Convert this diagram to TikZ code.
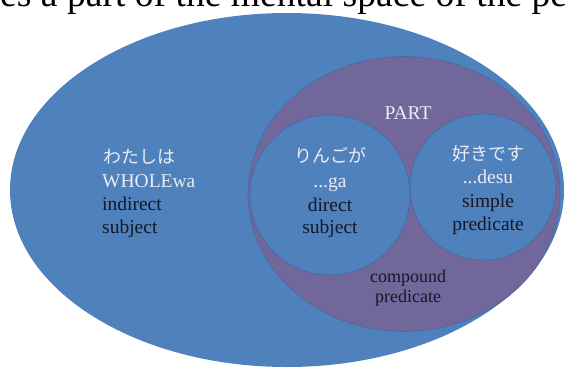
\documentclass[tikz,border=0pt]{standalone}
\usepackage{fontspec}
\setmainfont{Liberation Serif}
\newfontfamily\jp{Noto Sans CJK JP}
\usetikzlibrary{shapes.geometric}
\definecolor{setblue}{RGB}{79,129,189}
\definecolor{setpurple}{RGB}{114,103,155}
\definecolor{rimblue}{RGB}{65,108,160}
\definecolor{lighttext}{RGB}{236,236,242}
\definecolor{darktext}{RGB}{22,24,38}
\tikzset{
  setshape/.style={ellipse, inner sep=0pt, outer sep=0pt},
  lbl/.style={inner sep=0pt, font=\fontsize{19.5}{23}\selectfont},
  light/.style={lbl, text=lighttext},
  dark/.style={lbl, text=darktext},
  jplbl/.style={inner sep=0pt, text=lighttext, font=\jp\fontsize{18}{20}\selectfont}
}
\begin{document}
\begin{tikzpicture}[x=1pt,y=-1pt]
\useasboundingbox (0,0) rectangle (565,367);
\clip (0,0) rectangle (565,367);
% clipped line of running text above the picture
\node[anchor=base west, inner sep=0pt, font=\fontsize{37.6}{40}\selectfont] (runtext) at (0,6) {es a part of the mental space of the pe};
% sets
\node[setshape, fill=setblue, minimum width=554pt, minimum height=354pt] (whole) at (287,190) {};
\node[setshape, fill=setpurple, draw=rimblue, line width=0.6pt, minimum width=312pt, minimum height=275pt] (part) at (404,194) {};
\node[circle, inner sep=0pt, fill=setblue, draw=rimblue, line width=0.6pt, minimum size=160pt] (ga) at (330,195) {};
\node[circle, inner sep=0pt, fill=setblue, draw=rimblue, line width=0.6pt, minimum size=146pt] (desu) at (483,187) {};
% labels of the whole
\node[jplbl, anchor=base west] (wj) at (103,163) {わたしは};
\node[light, anchor=base west] (ww) at (102,187) {WHOLEwa};
\node[dark, anchor=base west] (wd1) at (102,210) {indirect};
\node[dark, anchor=base west] (wd2) at (102,233) {subject};
% PART
\node[light, anchor=base] (pt) at (408,119) {PART};
% ga circle
\node[jplbl, anchor=base] (gj) at (330,162) {りんごが};
\node[light, anchor=base] (gg) at (330,187) {...ga};
\node[dark, anchor=base] (gd1) at (330,211) {direct};
\node[dark, anchor=base] (gd2) at (330,233) {subject};
% desu circle
\node[jplbl, anchor=base] (dj) at (488,160) {好きです};
\node[light, anchor=base] (dd) at (488,183) {...desu};
\node[dark, anchor=base] (ds1) at (488,207) {simple};
\node[dark, anchor=base] (ds2) at (488,230) {predicate};
% compound predicate
\node[dark, anchor=base, font=\fontsize{18}{20}\selectfont] (cp1) at (408,282) {compound};
\node[dark, anchor=base, font=\fontsize{18}{20}\selectfont] (cp2) at (408,302) {predicate};
\end{tikzpicture}
\end{document}
